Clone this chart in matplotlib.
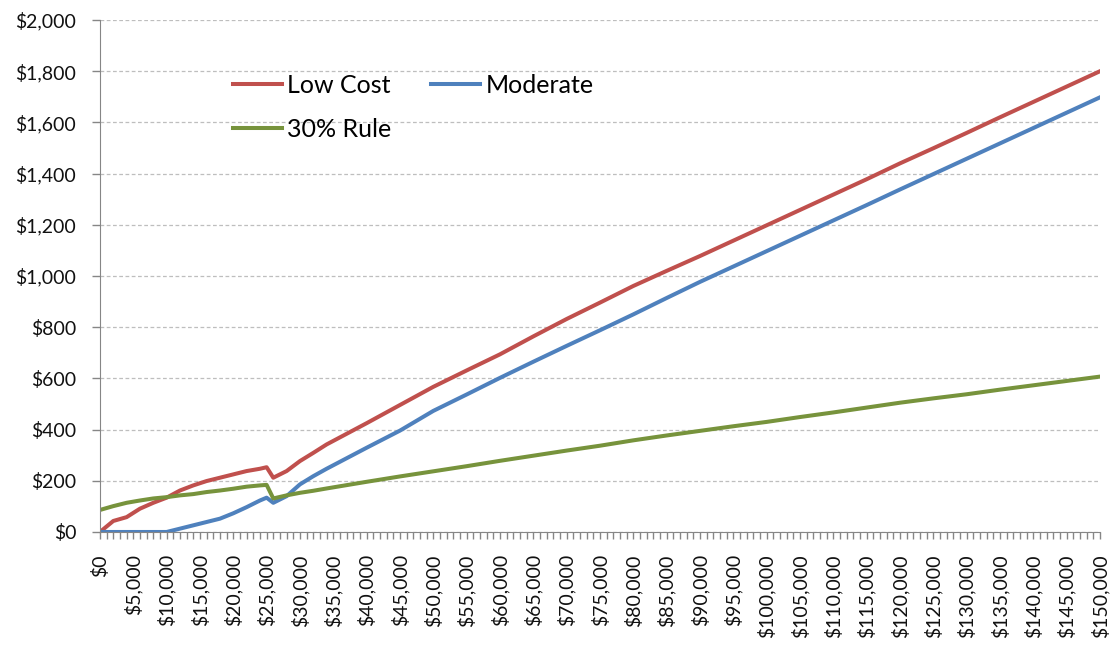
import numpy as np
import matplotlib
matplotlib.use("Agg")
import matplotlib.pyplot as plt
from matplotlib.ticker import MultipleLocator, FuncFormatter

# income in $1,000s and monthly amounts
income_k = [0, 2, 4, 6, 8, 10, 12, 14, 16, 18, 20, 22, 24, 25, 26, 28, 30, 32, 34,
            40, 45, 50, 55, 60, 65, 70, 75, 80, 85, 90, 95, 100, 105, 110, 115,
            120, 125, 130, 135, 140, 145, 150]

low_cost = [0, 43, 58, 91, 114, 134, 162, 182, 199, 212, 225, 238, 247, 253, 212, 238, 277, 309, 342,
            425, 496, 567, 631, 694, 764, 832, 896, 961, 1020, 1078, 1138, 1198, 1258, 1318, 1378,
            1440, 1499, 1559, 1620, 1680, 1740, 1800]

moderate = [0, 0, 0, 0, 0, 0, 13, 26, 39, 52, 73, 97, 123, 134, 114, 140, 186, 218, 247,
            329, 396, 473, 537, 602, 665, 727, 788, 850, 914, 977, 1037, 1097, 1157, 1217, 1277,
            1338, 1398, 1458, 1518, 1578, 1638, 1698]

rule_30 = [86, 101, 114, 123, 131, 136, 143, 148, 156, 162, 169, 177, 182, 184, 131, 143, 153, 161, 170,
           196, 217, 237, 257, 278, 298, 318, 337, 358, 377, 395, 413, 430, 449, 467, 486,
           505, 522, 538, 556, 573, 590, 607]

income = np.array(income_k) * 1000

plt.rcParams['font.family'] = ['Lato', 'DejaVu Sans']

fig = plt.figure(figsize=(11.13, 6.46), dpi=100)
ax = fig.add_axes([0.0898, 0.1765, 0.8985, 0.7925])

l1, = ax.plot(income, low_cost, color='#C0504D', lw=2.9, label='Low Cost', solid_joinstyle='round')
l2, = ax.plot(income, moderate, color='#4F81BD', lw=2.9, label='Moderate', solid_joinstyle='round')
l3, = ax.plot(income, rule_30, color='#77933C', lw=2.9, label='30% Rule', solid_joinstyle='round')

ax.set_xlim(0, 150000)
ax.set_ylim(0, 2000)
ax.xaxis.set_major_locator(MultipleLocator(5000))
ax.xaxis.set_minor_locator(MultipleLocator(1000))
ax.yaxis.set_major_locator(MultipleLocator(200))
ax.xaxis.set_major_formatter(FuncFormatter(lambda v, p: '${:,.0f}'.format(v)))
ax.yaxis.set_major_formatter(FuncFormatter(lambda v, p: '${:,.0f}'.format(v)))

for lab in ax.get_xticklabels():
    lab.set_rotation(90)

ax.tick_params(axis='both', which='both', colors='#868686', labelcolor='#111111', labelsize=14,
               direction='out', width=1)
ax.tick_params(axis='x', which='major', length=5, pad=11)
ax.tick_params(axis='x', which='minor', length=5)
ax.tick_params(axis='y', which='major', length=6, pad=11)

ax.grid(axis='y', color='#BEBEBE', linestyle=(0, (3, 2)), lw=0.9)
ax.set_axisbelow(True)
for side in ['top', 'right']:
    ax.spines[side].set_visible(False)
for side in ['left', 'bottom']:
    ax.spines[side].set_color('#868686')

# column-wise fill: Low Cost / 30% Rule in col 1, Moderate in col 2
leg = ax.legend([l1, l3, l2], ['Low Cost', '30% Rule', 'Moderate'],
                loc='upper left', bbox_to_anchor=(0.133, 0.895), ncol=2, frameon=False,
                fontsize=18, handlelength=1.95, handletextpad=0.22, columnspacing=1.6,
                labelspacing=0.85, borderaxespad=0, borderpad=0)

fig.savefig('out.png', dpi=100)
